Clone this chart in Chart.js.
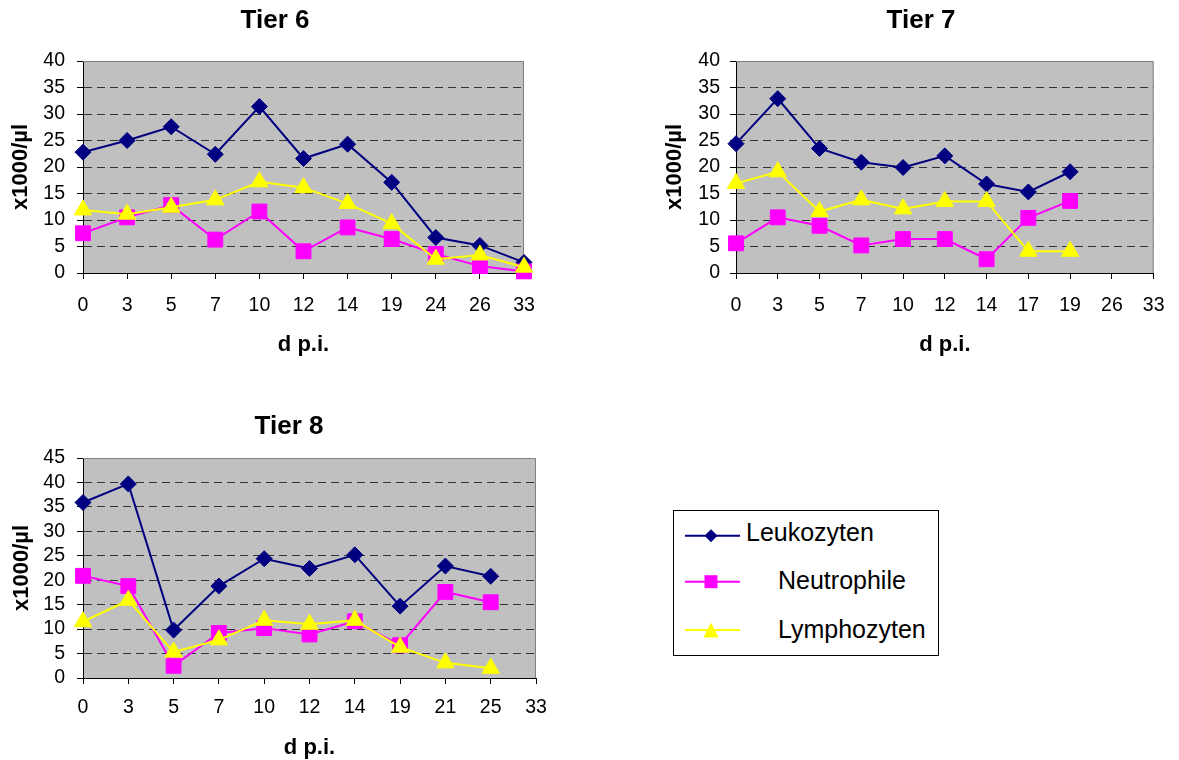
<!DOCTYPE html>
<html>
<head>
<meta charset="utf-8">
<script src="https://cdn.jsdelivr.net/npm/chart.js@4.4.1/dist/chart.umd.min.js"></script>
<style>
  body { margin: 0; width: 1179px; height: 760px; background: #fff; position: relative; overflow: hidden;
         font-family: "Liberation Sans", Arial, sans-serif; }
  canvas { position: absolute; }
  #legend { position: absolute; left: 673px; top: 510px; width: 264px; height: 144px;
            border: 1px solid #000; background: #fff; }
  #legend svg { position: absolute; left: 0; top: 0; }
  #legend span { position: absolute; font-size: 25px; line-height: 30px; color: #000; white-space: nowrap; }
</style>
</head>
<body>
<canvas id="tier6" width="550" height="365" style="left:0px;top:0px"></canvas>
<canvas id="tier7" width="539" height="365" style="left:640px;top:0px"></canvas>
<canvas id="tier8" width="560" height="361" style="left:0px;top:400px"></canvas>

<div id="legend">
  <svg width="264" height="144">
    <line x1="11" y1="24.7" x2="66" y2="24.7" stroke="#000080" stroke-width="2"/>
    <polygon points="30.5,24.7 37,18.2 43.5,24.7 37,31.2" fill="#000080"/>
    <line x1="11" y1="70.7" x2="66" y2="70.7" stroke="#ff00ff" stroke-width="2"/>
    <rect x="30.5" y="64.2" width="13" height="13" fill="#ff00ff"/>
    <line x1="11" y1="119" x2="66" y2="119" stroke="#ffff00" stroke-width="2"/>
    <polygon points="37,111.5 29.5,126.5 44.5,126.5" fill="#ffff00"/>
  </svg>
  <span style="left:72px;top:6px">Leukozyten</span>
  <span style="left:104px;top:54px">Neutrophile</span>
  <span style="left:104px;top:103px">Lymphozyten</span>
</div>

<script>
// days post infection (category labels)
const tier6Days = ['0', '3', '5', '7', '10', '12', '14', '19', '24', '26', '33'];
const tier7Days = ['0', '3', '5', '7', '10', '12', '14', '17', '19', '26', '33'];
const tier8Days = ['0', '3', '5', '7', '10', '12', '14', '19', '21', '25', '33'];

// x1000/µl
const tier6Leuko  = [22.8, 25.0, 27.6, 22.4, 31.4, 21.6, 24.3, 17.1, 6.7, 5.2, 2.0];
const tier6Neutro = [7.5, 10.5, 12.8, 6.3, 11.6, 4.1, 8.6, 6.4, 3.6, 1.3, 0.3];
const tier6Lympho = [11.9, 11.1, 12.4, 13.8, 17.2, 16.1, 13.1, 9.3, 2.6, 3.4, 1.1];

const tier7Leuko  = [24.4, 32.9, 23.5, 20.9, 19.9, 22.1, 16.8, 15.3, 19.1, null, null];
const tier7Neutro = [5.6, 10.5, 8.9, 5.2, 6.4, 6.4, 2.6, 10.4, 13.6, null, null];
const tier7Lympho = [16.9, 19.1, 11.6, 13.8, 12.1, 13.5, 13.5, 4.1, 4.1, null, null];

const tier8Leuko  = [35.9, 39.7, 9.8, 18.8, 24.4, 22.4, 25.2, 14.7, 22.9, 20.8, null];
const tier8Neutro = [20.9, 18.8, 2.5, 9.2, 10.2, 8.9, 11.6, 6.7, 17.6, 15.5, null];
const tier8Lympho = [11.5, 15.9, 5.3, 7.8, 11.8, 11.0, 11.8, 6.3, 3.1, 2.0, null];

const FONT = "'Liberation Sans', Arial, sans-serif";
Chart.defaults.font.family = FONT;
Chart.defaults.color = '#000';

// grey plot background + grey top/right frame like the excel chart
const plotFrame = {
  id: 'plotFrame',
  beforeDraw(chart) {
    const { ctx, chartArea: a } = chart;
    ctx.save();
    ctx.fillStyle = '#c0c0c0';
    ctx.fillRect(a.left, a.top, a.right - a.left, a.bottom - a.top);
    ctx.restore();
  },
  beforeDatasetsDraw(chart) {
    const { ctx, chartArea: a } = chart;
    ctx.save();
    ctx.strokeStyle = '#808080';
    ctx.lineWidth = 1;
    ctx.beginPath();
    ctx.moveTo(a.left, a.top + 0.5);
    ctx.lineTo(a.right - 0.5, a.top + 0.5);
    ctx.lineTo(a.right - 0.5, a.bottom);
    ctx.stroke();
    ctx.restore();
  }
};

function series(label, values, color, style, radius, order) {
  return {
    label: label,
    data: values,
    borderColor: color,
    backgroundColor: color,
    borderWidth: 2,
    pointStyle: style,
    pointRadius: radius,
    pointBackgroundColor: color,
    pointBorderColor: color,
    pointBorderWidth: 1,
    tension: 0,
    clip: false,
    order: order
  };
}

function makeChart(id, title, days, leuko, neutro, lympho, yMax, box) {
  new Chart(document.getElementById(id), {
    type: 'line',
    data: {
      labels: days,
      datasets: [
        series('Leukozyten', leuko, '#000080', 'rectRot', 8, 2),
        series('Neutrophile', neutro, '#ff00ff', 'rect', 10.5, 1),
        series('Lymphozyten', lympho, '#ffff00', 'triangle', 10, 0)
      ]
    },
    options: {
      responsive: false,
      animation: false,
      events: [],
      layout: { padding: box.pad },
      plugins: {
        legend: { display: false },
        tooltip: { enabled: false },
        title: {
          display: true,
          text: title,
          color: '#000',
          font: { size: 26, weight: 'bold' },
          padding: { top: box.titleTop, bottom: box.titleBottom }
        }
      },
      scales: {
        x: {
          type: 'category',
          offset: false,
          grid: { drawOnChartArea: false, drawTicks: true, tickLength: 6, tickColor: '#000', color: '#000' },
          border: { color: '#000', width: 1 },
          ticks: { color: '#000', font: { size: 19.5 }, padding: box.xPad, autoSkip: false, maxRotation: 0 },
          title: { display: true, text: 'd p.i.', color: '#000', font: { size: 22, weight: 'bold' }, padding: 0 },
          afterFit: s => { s.height = box.xH; }
        },
        y: {
          min: 0,
          max: yMax,
          ticks: { stepSize: 5, color: '#000', font: { size: 19.5, lineHeight: 1 }, padding: box.yPad, autoSkip: false },
          grid: {
            color: c => (c.tick && (c.tick.value === 0 || c.tick.value === yMax)) ? 'rgba(0,0,0,0)' : '#333',
            tickColor: '#000',
            tickLength: 6
          },
          border: { color: '#000', width: 1, dash: [8, 5] },
          title: { display: true, text: 'x1000/µl', color: '#000', font: { size: 22, weight: 'bold' },
                   padding: { top: box.yTitlePad, bottom: 0 } },
          afterFit: s => { s.width = box.yW; }
        }
      }
    },
    plugins: [plotFrame]
  });
}

makeChart('tier6', 'Tier 6', tier6Days, tier6Leuko, tier6Neutro, tier6Lympho, 40, {
  pad: { left: 26, right: 26, top: 0, bottom: 7 },
  titleTop: 5.4, titleBottom: 24.4, xPad: 14.5, xH: 85, yPad: 12, yW: 57, yTitlePad: -18.2
});
makeChart('tier7', 'Tier 7', tier7Days, tier7Leuko, tier7Neutro, tier7Lympho, 40, {
  pad: { left: 44, right: 21, top: 0, bottom: 7 },
  titleTop: 5.4, titleBottom: 24.4, xPad: 14.5, xH: 85, yPad: 10, yW: 52, yTitlePad: -22.2
});
makeChart('tier8', 'Tier 8', tier8Days, tier8Leuko, tier8Neutro, tier8Lympho, 45, {
  pad: { left: 42, right: 24, top: 0, bottom: 0 },
  titleTop: 11.1, titleBottom: 15.7, xPad: 12.3, xH: 83, yPad: 12, yW: 41, yTitlePad: -33.7
});
</script>
</body>
</html>
